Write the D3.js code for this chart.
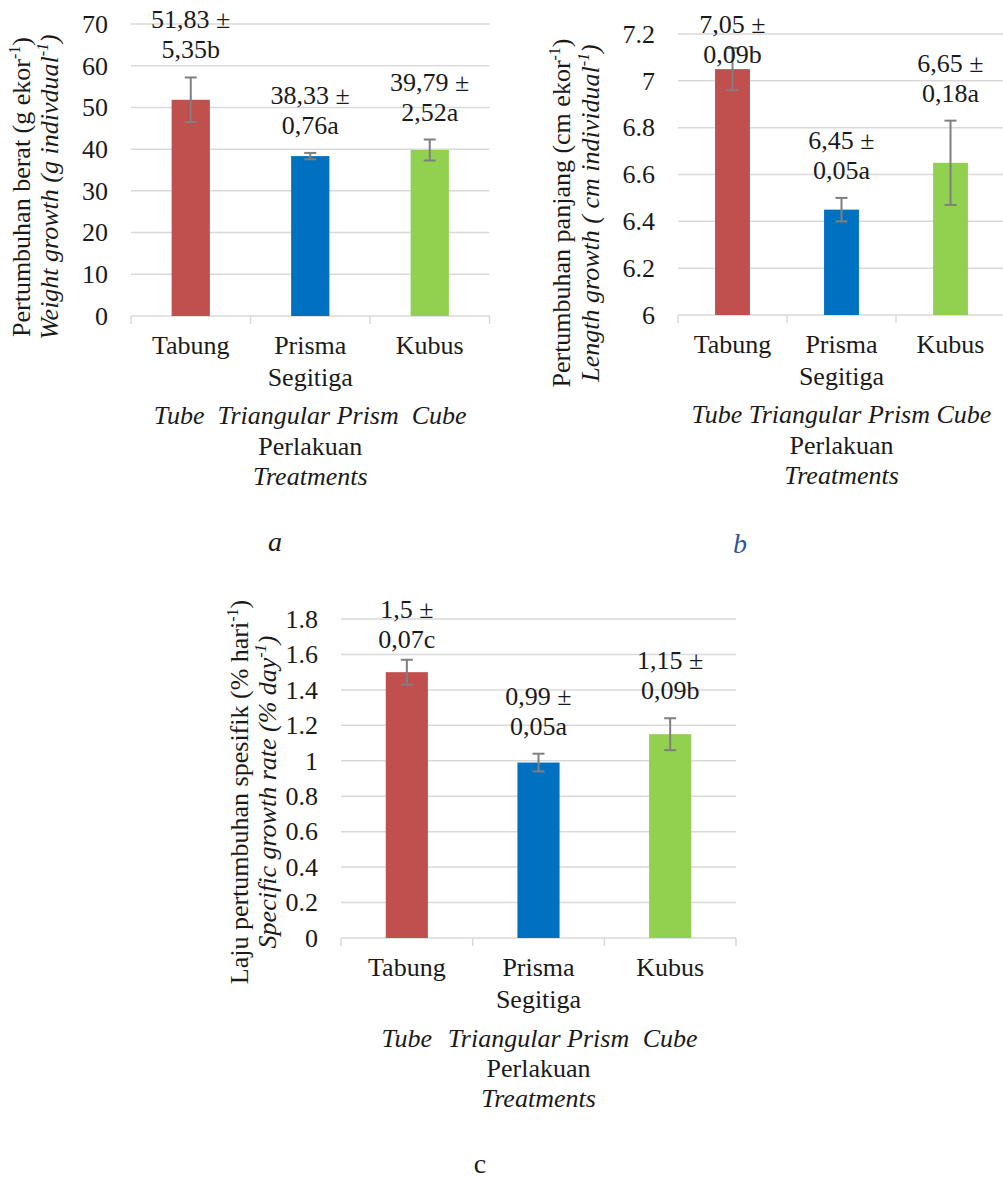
<!DOCTYPE html>
<html>
<head>
<meta charset="utf-8">
<script src="https://cdn.jsdelivr.net/npm/d3@7"></script>
<style>
body { margin: 0; background: #fff; }
svg, svg text, svg tspan { font-family: "Liberation Serif", "Times New Roman", Times, serif !important; }
svg text { fill: #1a1a1a; }
</style>
</head>
<body>
<div id="graphicContainer"></div>
<script>

// data

var categories = ["Tabung", "Prisma Segitiga", "Kubus"];
var categoriesEn = ["Tube", "Triangular Prism", "Cube"];

var weightMean = [51.83, 38.33, 39.79];
var weightSd = [5.35, 0.76, 2.52];
var weightGroup = ["b", "a", "a"];
var weightTicks = [0, 10, 20, 30, 40, 50, 60, 70];

var lengthMean = [7.05, 6.45, 6.65];
var lengthSd = [0.09, 0.05, 0.18];
var lengthGroup = ["b", "a", "a"];
var lengthTicks = [6, 6.2, 6.4, 6.6, 6.8, 7, 7.2];

var sgrMean = [1.5, 0.99, 1.15];
var sgrSd = [0.07, 0.05, 0.09];
var sgrGroup = ["c", "a", "b"];
var sgrTicks = [0, 0.2, 0.4, 0.6, 0.8, 1, 1.2, 1.4, 1.6, 1.8];

var colour_choices = ["#c0504d", "#0070c0", "#92d050"];

var serif = "Liberation Serif, Times New Roman, serif";

var svg = d3.select("#graphicContainer").append("svg")
	.attr("width", 1003)
	.attr("height", 1180)
	.attr("font-family", serif);

function comma(v) {
	return String(v).replace(".", ",");
}

function draw_bars(opt) {

	var data = categories.map((c, i) => ({cat: c, en: categoriesEn[i], mean: opt.mean[i], sd: opt.sd[i], grp: opt.group[i]}));

	var x = d3.scaleBand()
		.domain(categories)
		.range(opt.xRange)
		.padding(0);

	var y = d3.scaleLinear()
		.domain([opt.ticks[0], opt.ticks[opt.ticks.length - 1]])
		.range(opt.yRange);

	var g = svg.append("g").attr("font-family", serif);

	// gridlines

	g.append("g")
		.selectAll("line")
		.data(opt.ticks)
		.enter()
		.append("line")
		.attr("x1", opt.xRange[0])
		.attr("x2", opt.gridRight || opt.xRange[1])
		.attr("y1", d => y(d))
		.attr("y2", d => y(d))
		.attr("stroke", "#d9d9d9")
		.attr("stroke-width", 1.5);

	// y axis labels

	var yAxis = g.append("g")
		.attr("transform", `translate(${opt.xRange[0]},0)`)
		.call(d3.axisLeft(y).tickValues(opt.ticks).tickFormat(d => String(d)).tickSize(0).tickPadding(23))
		.attr("font-family", serif)
		.attr("font-size", 26);

	yAxis.select(".domain").remove();
	yAxis.selectAll("text")
		.attr("font-family", serif)
		.attr("fill", "#1a1a1a");

	// tick marks between categories

	var edges = categories.map(c => x(c)).concat([x.range()[1]]);

	g.append("g")
		.selectAll("line")
		.data(edges)
		.enter()
		.append("line")
		.attr("x1", d => d)
		.attr("x2", d => d)
		.attr("y1", y.range()[0])
		.attr("y2", y.range()[0] + 8)
		.attr("stroke", "#d9d9d9")
		.attr("stroke-width", 1.5);

	// bars

	var bw = x.bandwidth() * 0.32;

	g.append("g")
		.selectAll("rect")
		.data(data)
		.enter()
		.append("rect")
		.attr("x", d => x(d.cat) + x.bandwidth() / 2 - bw / 2)
		.attr("y", d => y(d.mean))
		.attr("width", bw)
		.attr("height", d => y.range()[0] - y(d.mean))
		.attr("fill", (d, i) => colour_choices[i]);

	// error bars

	var err = g.append("g")
		.attr("stroke", "#7f7f7f")
		.attr("stroke-width", 2)
		.selectAll("g")
		.data(data)
		.enter()
		.append("g")
		.attr("transform", d => `translate(${x(d.cat) + x.bandwidth() / 2},0)`);

	err.append("line")
		.attr("y1", d => y(d.mean - d.sd))
		.attr("y2", d => y(d.mean + d.sd));

	err.append("line")
		.attr("x1", -6).attr("x2", 6)
		.attr("y1", d => y(d.mean + d.sd))
		.attr("y2", d => y(d.mean + d.sd));

	err.append("line")
		.attr("x1", -6).attr("x2", 6)
		.attr("y1", d => y(d.mean - d.sd))
		.attr("y2", d => y(d.mean - d.sd));

	// value labels above the error bars, kept inside the plot

	var top = y.range()[1];

	var lab = g.append("g")
		.selectAll("text")
		.data(data)
		.enter()
		.append("text")
		.attr("text-anchor", "middle")
		.attr("font-family", serif)
		.attr("font-size", 26)
		.attr("transform", d => {
			var yy = Math.max(y(d.mean + d.sd) - 19 - 30, top - 1);
			return `translate(${x(d.cat) + x.bandwidth() / 2},${yy})`;
		});

	lab.append("tspan").attr("x", 0).attr("y", 0).text(d => comma(d.mean) + " \u00b1");
	lab.append("tspan").attr("x", 0).attr("y", 30).text(d => comma(d.sd) + d.grp);

	// category labels

	var base = y.range()[0];

	var cat = g.append("g")
		.selectAll("text")
		.data(data)
		.enter()
		.append("text")
		.attr("text-anchor", "middle")
		.attr("font-family", serif)
		.attr("font-size", 26)
		.attr("transform", d => `translate(${x(d.cat) + x.bandwidth() / 2},${base + 38})`);

	cat.selectAll("tspan")
		.data(d => d.cat.split(" "))
		.enter()
		.append("tspan")
		.attr("x", 0)
		.attr("y", (d, i) => i * 32)
		.text(d => d);

	var mid = (opt.xRange[0] + opt.xRange[1]) / 2;

	// english names: one joined line, or one under each category

	if (opt.enJoin) {
		g.append("text")
			.attr("x", mid)
			.attr("y", base + 108)
			.attr("text-anchor", "middle")
			.attr("font-family", serif)
			.attr("font-size", 26)
			.attr("font-style", "italic")
			.style("white-space", "pre")
			.text(categoriesEn.join(opt.enJoin));
	} else {
		g.append("g")
			.selectAll("text")
			.data(data)
			.enter()
			.append("text")
			.attr("x", d => x(d.cat) + x.bandwidth() / 2)
			.attr("y", base + 109)
			.attr("text-anchor", "middle")
			.attr("font-family", serif)
			.attr("font-size", 26)
			.attr("font-style", "italic")
			.text(d => d.en);
	}

	g.append("text")
		.attr("x", mid)
		.attr("y", base + 139)
		.attr("text-anchor", "middle")
		.attr("font-family", serif)
		.attr("font-size", 26)
		.text("Perlakuan");

	g.append("text")
		.attr("x", mid)
		.attr("y", base + 169)
		.attr("text-anchor", "middle")
		.attr("font-family", serif)
		.attr("font-size", 26)
		.attr("font-style", "italic")
		.text("Treatments");

	// y axis title, two rotated lines with superscripts

	opt.yTitle.forEach((t, i) => {
		var tt = g.append("text")
			.attr("transform", `translate(${opt.titleX[i]},${opt.titleY}) rotate(-90)`)
			.attr("text-anchor", "middle")
			.attr("font-family", serif)
			.attr("font-size", 26)
			.attr("font-style", i == 1 ? "italic" : "normal");
		tt.append("tspan").text(t[0]);
		tt.append("tspan").attr("font-size", 16).attr("dy", -10).text("-1");
		tt.append("tspan").attr("dy", 10).text(")");
	});

	// panel letter

	g.append("text")
		.attr("x", opt.letter.x)
		.attr("y", opt.letter.y)
		.attr("text-anchor", "middle")
		.attr("font-family", serif)
		.attr("font-size", 28)
		.attr("font-style", opt.letter.italic ? "italic" : "normal")
		.style("fill", opt.letter.color)
		.text(opt.letter.text);
}

draw_bars({
	mean: weightMean, sd: weightSd, group: weightGroup, ticks: weightTicks,
	xRange: [131, 489.5], yRange: [316, 24],
	enJoin: "  ",
	yTitle: [["Pertumbuhan berat (g ekor"], ["Weight growth (g indivdual"]],
	titleX: [30, 58], titleY: 187,
	letter: {text: "a", x: 275, y: 551, italic: true, color: "#1a1a1a"}
});

draw_bars({
	mean: lengthMean, sd: lengthSd, group: lengthGroup, ticks: lengthTicks,
	xRange: [678, 1005], yRange: [315, 34], gridRight: 1003,
	enJoin: " ",
	yTitle: [["Pertumbuhan panjang (cm ekor"], ["Length growth ( cm individual"]],
	titleX: [570, 599], titleY: 213,
	letter: {text: "b", x: 740, y: 553, italic: true, color: "#2f5597"}
});

draw_bars({
	mean: sgrMean, sd: sgrSd, group: sgrGroup, ticks: sgrTicks,
	xRange: [341, 736], yRange: [938, 619],
	enJoin: null,
	yTitle: [["Laju pertumbuhan spesifik (% hari"], ["Specific growth rate (% day"]],
	titleX: [248, 276], titleY: 792,
	letter: {text: "c", x: 480, y: 1173, italic: false, color: "#1a1a1a"}
});

</script>
</body>
</html>
